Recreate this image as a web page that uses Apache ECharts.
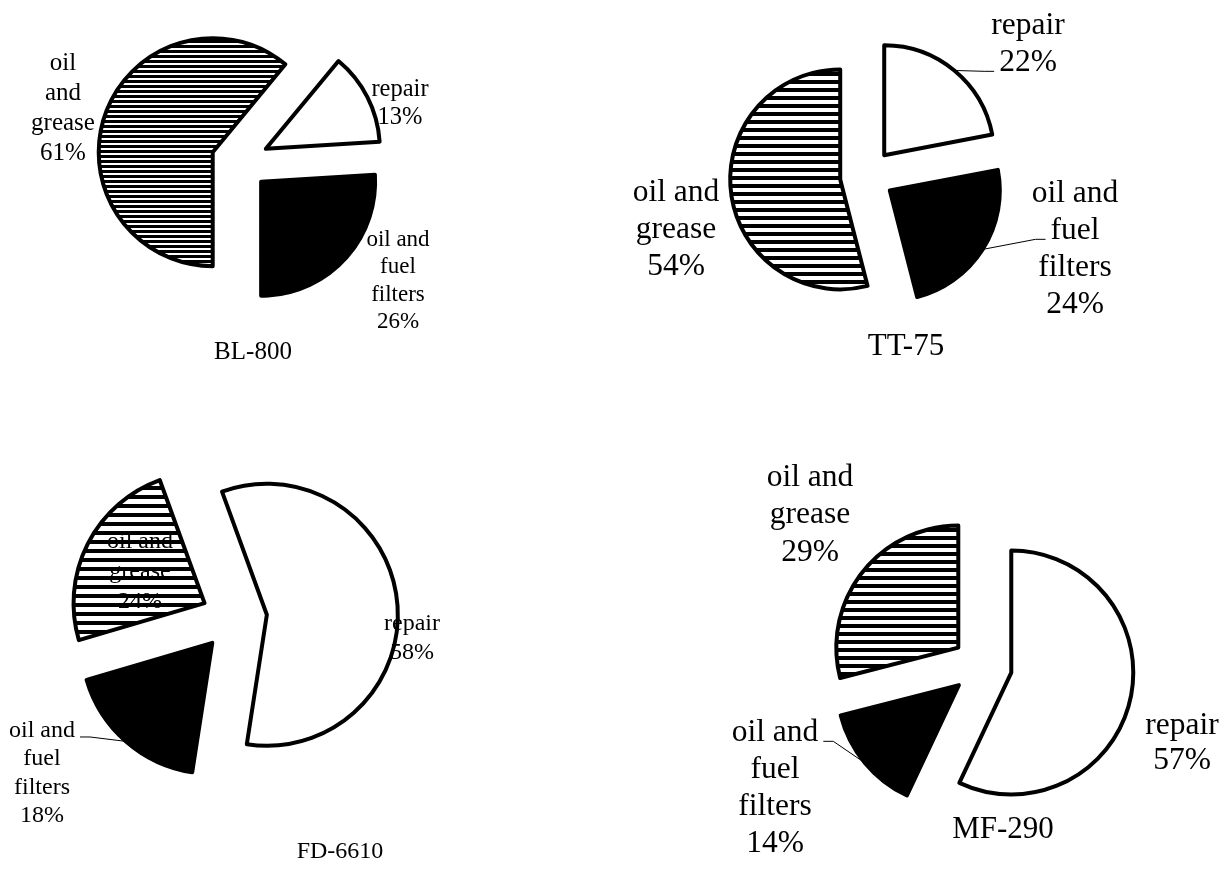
<!DOCTYPE html>
<html>
<head>
<meta charset="utf-8">
<script src="https://cdn.jsdelivr.net/npm/echarts@6/dist/echarts.min.js"></script>
<style>
  html, body { margin: 0; padding: 0; background: #ffffff; }
  #chart { width: 1227px; height: 873px; }
</style>
</head>
<body>
<div id="chart"></div>
<script>
// Cost categories, listed clockwise from the first slice of each pie
const categories = ['repair', 'oil and fuel filters', 'oil and grease'];
// Machine names, one pie each
const machines = ['BL-800', 'TT-75', 'FD-6610', 'MF-290'];
// Share of each cost category (%)
const shareBL800 = [13, 26, 61];
const shareTT75 = [22, 24, 54];
const shareFD6610 = [58, 18, 24];
const shareMF290 = [57, 14, 29];

const FONT = '"Liberation Serif", "Times New Roman", serif';

// Horizontal hatching used for the "oil and grease" slices
function stripes(period, thick) {
  const c = document.createElement('canvas');
  c.width = 4; c.height = period;
  const g = c.getContext('2d');
  g.fillStyle = '#ffffff'; g.fillRect(0, 0, 4, period);
  g.fillStyle = '#000000'; g.fillRect(0, 0, 4, thick);
  return { image: c, repeat: 'repeat' };
}

// Greedy word wrap: keeps words together on a line up to maxChars characters
function wrap(text, maxChars) {
  const words = text.split(' ');
  const lines = [];
  let cur = '';
  words.forEach(w => {
    if (cur && (cur + ' ' + w).length > maxChars) { lines.push(cur); cur = w; }
    else { cur = cur ? cur + ' ' + w : w; }
  });
  if (cur) lines.push(cur);
  return lines.join('\n');
}

// Width of one line of label text
const measureCtx = document.createElement('canvas').getContext('2d');
function textWidth(s, size) {
  measureCtx.font = size + 'px ' + FONT;
  return measureCtx.measureText(s).width;
}

// Placement and styling of each pie (slices are pulled out from the centre by `offset`).
// Per-slice arrays follow the order of `categories`; `leader` names the label line a guide line ends at.
const panels = [
  { values: shareBL800, center: [240, 162], radius: 114, offset: 29, startAngle: 50.4,
    fonts: [24.5, 23, 25], lineHeights: [28, 27.5, 30], titleFont: 25, title: [253, 352], hatch: [5, 3],
    labels: [[400, 104], [398, 281], [63, 108]], wrapAt: [7, 7, 3], leader: [null, null, null] },
  { values: shareTT75, center: [867, 176], radius: 110, offset: 27, startAngle: 90,
    fonts: [31.5, 31.5, 31.5], lineHeights: [37, 37, 37], titleFont: 31, title: [906, 347], hatch: [8, 4],
    labels: [[1028, 44], [1075, 249], [676, 230]], wrapAt: [7, 7, 7], leader: [1, 1, null] },
  { values: shareFD6610, center: [234, 618], radius: 131, offset: 33, startAngle: 110,
    fonts: [24, 24, 24], lineHeights: [29, 28.5, 30], titleFont: 24, title: [340, 852], hatch: [9, 4],
    labels: [[412, 638], [42, 773], [140, 572]], wrapAt: [7, 7, 7], leader: [null, 0, null] },
  { values: shareMF290, center: [982, 666], radius: 122, offset: 30, startAngle: 90,
    fonts: [31.5, 31.5, 31.5], lineHeights: [35, 37, 37.5], titleFont: 31, title: [1003, 830], hatch: [8, 4],
    labels: [[1182, 743], [775, 788], [810, 515]], wrapAt: [7, 7, 7], leader: [null, 0, null] }
];

// One pie series per slice, each centred a little out along that slice's bisector
const series = [];
panels.forEach((p) => {
  const fills = ['#ffffff', '#000000', stripes(p.hatch[0], p.hatch[1])];
  const total = p.values.reduce((a, b) => a + b, 0);
  let cum = 0;
  p.values.forEach((v, k) => {
    const mid = (p.startAngle - (cum + v / 2) / total * 360) * Math.PI / 180;
    cum += v;
    const center = [p.center[0] + p.offset * Math.cos(mid), p.center[1] - p.offset * Math.sin(mid)];
    // Point where the slice's bisector meets its arc
    const arcPoint = [center[0] + p.radius * Math.cos(mid), center[1] - p.radius * Math.sin(mid)];

    series.push({
      type: 'pie',
      center: center,
      radius: p.radius,
      startAngle: p.startAngle,
      clockwise: true,
      avoidLabelOverlap: false,
      animation: false,
      silent: true,
      emphasis: { disabled: true },
      label: {
        position: 'outside',
        color: '#000000',
        fontFamily: FONT,
        align: 'center',
        formatter: (params) => wrap(params.name, p.wrapAt[params.dataIndex]) + '\n' + Math.round(params.percent) + '%'
      },
      labelLine: { length: 8, length2: 8, lineStyle: { color: '#000000', width: 1 } },
      labelLayout: (params) => {
        if (params.dataIndex !== k) return {};
        const [lx, ly] = p.labels[k];
        const out = { x: lx, y: ly, align: 'center', verticalAlign: 'middle' };
        const lineIdx = p.leader[k];
        if (lineIdx != null) {
          const lines = params.text.split('\n');
          const lh = p.lineHeights[k];
          const size = p.fonts[k];
          const top = ly - lines.length * lh / 2;
          const yEnd = top + lh * (lineIdx + 0.5) + 0.28 * size;
          const half = textWidth(lines[lineIdx], size) / 2 + 5;
          const side = arcPoint[0] < lx ? -1 : 1;
          const xEnd = lx + side * half;
          out.labelLinePoints = [arcPoint, [xEnd + side * 10, yEnd], [xEnd, yEnd]];
        }
        return out;
      },
      data: p.values.map((vv, kk) => kk === k ? {
        name: categories[kk],
        value: vv,
        itemStyle: { color: fills[kk], borderColor: '#000000', borderWidth: 4 },
        label: { show: true, fontSize: p.fonts[kk], lineHeight: p.lineHeights[kk] },
        labelLine: { show: p.leader[kk] != null }
      } : {
        name: categories[kk],
        value: vv,
        itemStyle: { color: 'rgba(0,0,0,0)', borderWidth: 0 },
        label: { show: false },
        labelLine: { show: false }
      })
    });
  });
});

const chart = echarts.init(document.getElementById('chart'), null, { renderer: 'canvas' });

chart.setOption({
  animation: false,
  backgroundColor: '#ffffff',
  graphic: panels.map((p, i) => ({
    type: 'text',
    x: p.title[0],
    y: p.title[1],
    silent: true,
    style: {
      text: machines[i],
      fontFamily: FONT,
      fontSize: p.titleFont,
      fill: '#000000',
      align: 'center',
      verticalAlign: 'middle'
    }
  })),
  series: series
});
</script>
</body>
</html>
